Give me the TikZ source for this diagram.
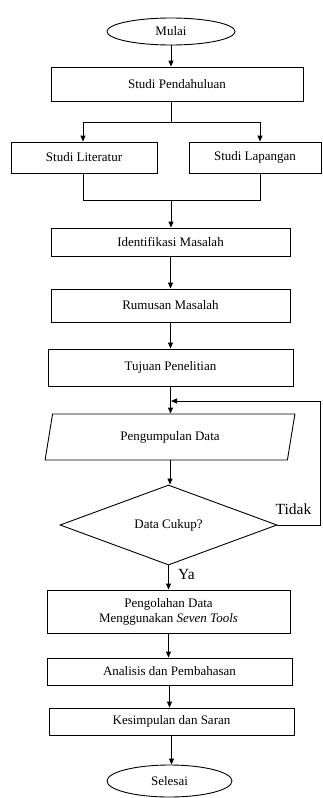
\documentclass[tikz,border=0pt]{standalone}
\usepackage{fontspec}
\setmainfont{Liberation Serif}
\usetikzlibrary{shapes.geometric,arrows.meta}
\begin{document}
\begin{tikzpicture}[x=1pt,y=-1pt,
  base/.style={draw=black,line width=0.9pt,inner sep=0pt,font=\fontsize{13}{15}\selectfont},
  box/.style={base,rectangle,align=center},
  term/.style={base,ellipse},
  io/.style={base,trapezium,trapezium left angle=75,trapezium right angle=105,trapezium stretches=true},
  dec/.style={base,diamond},
  conn/.style={line width=0.9pt,-{Triangle[length=6pt,width=5pt]}},
  line/.style={line width=0.9pt},
  lbl/.style={font=\fontsize{15.5}{18}\selectfont,inner sep=0pt}]
\useasboundingbox (0,0) rectangle (322,798);
\node[term,minimum width=128pt,minimum height=27pt] (mulai) at (171,31.5) {Mulai};
\node[box,minimum width=252pt,minimum height=34pt] (sp) at (177,84) {Studi Pendahuluan};
\node[box,minimum width=146pt,minimum height=31pt] (lit) at (84,157.5) {Studi Literatur};
\node[box,minimum width=132pt,minimum height=31pt] (lap) at (255,157.5) {Studi Lapangan};
\node[box,minimum width=239pt,minimum height=28pt] (idm) at (170.5,242) {Identifikasi Masalah};
\node[box,minimum width=239pt,minimum height=33pt] (rum) at (170.5,305.5) {Rumusan Masalah};
\node[box,minimum width=245pt,minimum height=37pt] (tuj) at (170.5,367.5) {Tujuan Penelitian};
\node[io,minimum width=250pt,minimum height=46pt] (peng) at (170,437) {Pengumpulan Data};
\node[dec,minimum width=217pt,minimum height=78pt] (dc) at (168.5,525) {Data Cukup?};
\node[box,minimum width=243pt,minimum height=43pt] (pol) at (168.5,611.5) {Pengolahan Data\\Menggunakan \textit{Seven Tools}};
\node[box,minimum width=245pt,minimum height=27pt] (ana) at (169.5,671.5) {Analisis dan Pembahasan};
\node[box,minimum width=245pt,minimum height=27pt] (kes) at (171.5,721.5) {Kesimpulan dan Saran};
\node[term,minimum width=125pt,minimum height=32pt] (sel) at (169.5,781) {Selesai};
\coordinate (br) at (171,122);
\coordinate (mg) at (171,200);
\coordinate (fr) at (320,525);
\coordinate (ft) at (320,401);
\coordinate (fj) at (171,401);
\draw[conn] (mulai.south) -- (mulai.south |- sp.north);
\draw[line] (br |- sp.south) -- (br);
\draw[conn] (br) -| ([xshift=-1pt]lit.north);
\draw[conn] (br) -| ([xshift=5pt]lap.north);
\draw[line] ([xshift=-1pt]lit.south) |- (mg);
\draw[line] ([xshift=5pt]lap.south) |- (mg);
\draw[conn] (mg) -- (mg |- idm.north);
\draw[conn] (idm.south) -- (rum.north);
\draw[conn] (rum.south) -- (tuj.north);
\draw[conn] (tuj.south) -- (tuj.south |- peng.north);
\draw[conn] (dc.east) -- (fr) -- (ft) -- (fj);
\draw[conn] (peng.south) -- (peng.south |- dc.north);
\draw[conn] (dc.south) -- (dc.south |- pol.north);
\draw[conn] (pol.south) -- (pol.south |- ana.north);
\draw[conn] (ana.south) -- (ana.south |- kes.north);
\draw[conn] (kes.south) -- (kes.south |- sel.north);
\node[lbl] (tidak) at (293.5,509) {Tidak};
\node[lbl] (ya) at (186.5,574) {Ya};
\end{tikzpicture}
\end{document}
